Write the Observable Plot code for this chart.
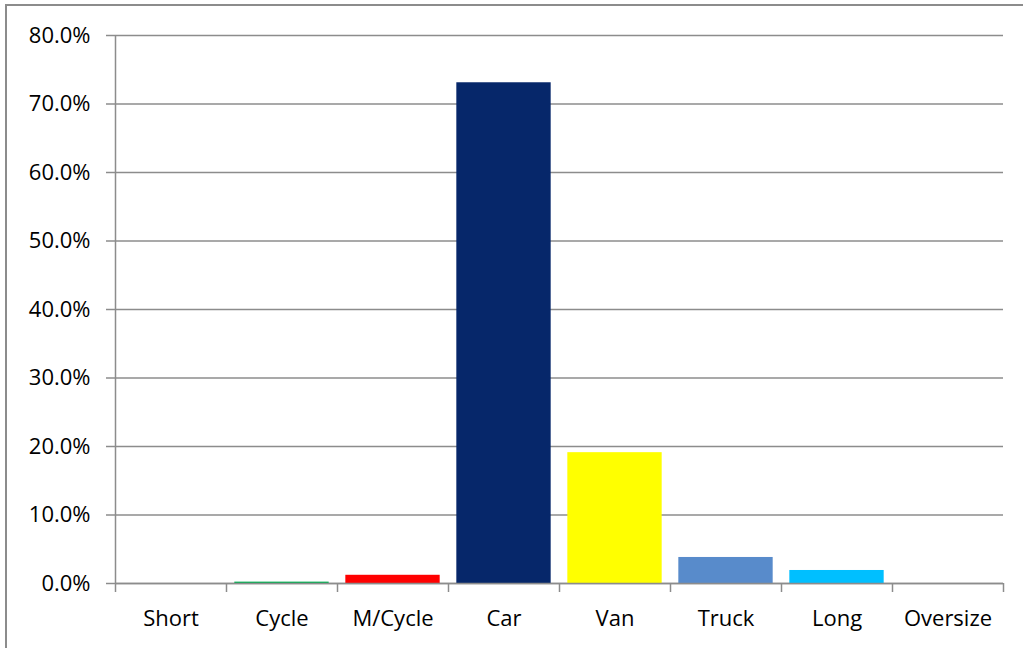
<!DOCTYPE html>
<html>
<head>
<meta charset="utf-8">
<script src="https://cdn.jsdelivr.net/npm/d3@7"></script>
<script src="https://cdn.jsdelivr.net/npm/@observablehq/plot@0.6"></script>
<style>
  html, body { margin: 0; padding: 0; background: #fff; overflow: hidden; }
  #wrap { position: relative; width: 1023px; height: 648px; }
  #border { position: absolute; left: 5px; top: 4px; width: 1040px; height: 700px; border: 2px solid #8c8c8c; box-sizing: border-box; pointer-events: none; }
  svg { font-family: "Open Sans", "Liberation Sans", sans-serif; }
</style>
</head>
<body>
<div id="wrap"><div id="border"></div></div>
<script>
const categories = ["Short", "Cycle", "M/Cycle", "Car", "Van", "Truck", "Long", "Oversize"];
const shares = [0.0, 0.002, 0.012, 0.731, 0.191, 0.038, 0.019, 0.0];
const colors = ["#7f7f7f", "#00B050", "#FF0000", "#06276A", "#FFFF00", "#588BCB", "#00BFFF", "#7f7f7f"];
const yTicks = [0, 0.1, 0.2, 0.3, 0.4, 0.5, 0.6, 0.7, 0.8];

const data = categories.map((c, i) => ({cat: c, value: shares[i], color: colors[i], i}));
const pad = 0.075;
const grid = "#8c8c8c";

const chart = Plot.plot({
  width: 1023,
  height: 648,
  marginLeft: 115,
  marginRight: 20,
  marginTop: 35,
  marginBottom: 65,
  style: {fontSize: "22px", color: "#000", background: "transparent"},
  x: {type: "linear", domain: [0, 8], axis: null, label: null},
  y: {domain: [0, 0.8], axis: null, label: null},
  marks: [
    Plot.gridY(yTicks, {stroke: grid, strokeOpacity: 1, strokeWidth: 1.5}),
    Plot.axisY(yTicks, {tickSize: 9, stroke: grid, strokeWidth: 1.5, tickPadding: 16, tickFormat: d3.format(".1%"), fill: "#000", fontSize: 22, label: null}),
    Plot.rectY(data, {x1: d => d.i + pad, x2: d => d.i + 1 - pad, y: "value", fill: "color"}),
    Plot.ruleX([0], {stroke: grid, strokeWidth: 1.5}),
    Plot.ruleY([0], {stroke: grid, strokeWidth: 1.5}),
    Plot.axisX(d3.range(0, 9), {tickSize: 9, stroke: grid, strokeWidth: 1.5, tickFormat: () => "", label: null}),
    Plot.axisX(data.map(d => d.i + 0.5), {tickSize: 0, tickPadding: 27, tickFormat: (d) => categories[Math.floor(d)], fill: "#000", fontSize: 22, label: null})
  ]
});
document.getElementById("wrap").prepend(chart);
</script>
</body>
</html>
